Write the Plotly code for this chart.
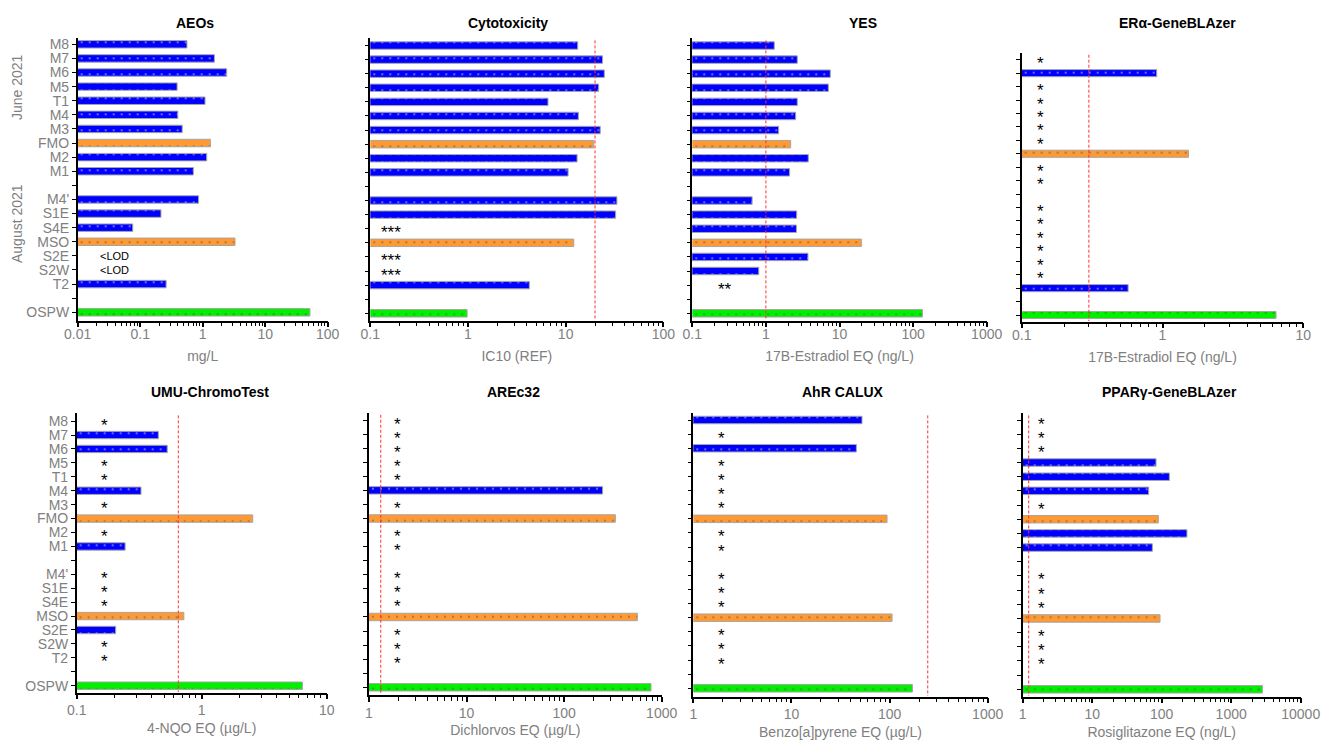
import math
import plotly.graph_objects as go

# ---------------- data ----------------
slots = ["M8", "M7", "M6", "M5", "T1", "M4", "M3", "FMO", "M2", "M1", None,
         "M4'", "S1E", "S4E", "MSO", "S2E", "S2W", "T2", None, "OSPW"]
samples = [s for s in slots if s]
orange_samples = ["FMO", "MSO"]
green_samples = ["OSPW"]

# values in sample order (None = not detected)
aeos = [0.56, 1.54, 2.42, 0.39, 1.09, 0.40, 0.47, 1.33, 1.16, 0.71,
        0.86, 0.215, 0.076, 3.29, None, None, 0.26, 52]
cytotox = [13.3, 23.9, 24.9, 21.8, 6.6, 13.5, 22.6, 19.4, 13.1, 10.6,
           33.5, 32.5, None, 12.1, None, None, 4.25, 0.98]
yes = [1.30, 2.67, 7.5, 7.05, 2.67, 2.54, 1.49, 2.17, 3.77, 2.10,
       0.65, 2.62, 2.60, 19.8, 3.73, 0.80, None, 134]
era = [None, 0.91, None, None, None, None, None, 1.53, None, None,
       None, None, None, None, None, None, 0.57, 6.4]
umu = [None, 0.45, 0.53, None, None, 0.327, None, 2.56, None, 0.244,
       None, None, None, 0.72, 0.205, None, None, 6.39]
arec32 = [None, None, None, None, None, 248, None, 335, None, None,
          None, None, None, 563, None, None, None, 777]
ahr = [52.4, None, 45.9, None, None, None, None, 94.2, None, None,
       None, None, None, 106, None, None, None, 171]
ppar = [None, None, None, 82.9, 129, 65, None, 89.5, 231, 73.4,
        None, None, None, 94.6, None, None, None, 2807]

titles = ["AEOs", "Cytotoxicity", "YES", "ERα-GeneBLAzer",
          "UMU-ChromoTest", "AREc32", "AhR CALUX", "PPARγ-GeneBLAzer"]
x_titles = ["mg/L", "IC10 (REF)", "17B-Estradiol EQ (ng/L)", "17B-Estradiol EQ (ng/L)",
            "4-NQO EQ (µg/L)", "Dichlorvos EQ (µg/L)", "Benzo[a]pyrene EQ (µg/L)",
            "Rosiglitazone EQ (ng/L)"]
nd_labels = ["<LOD", "***", "**", "*", "*", "*", "*", "*"]
thresholds = [None, 20, 1.0, 0.3, 0.65, 1.32, 245, 1.22]
x_ranges = [(0.01, 100), (0.1, 100), (0.1, 1000), (0.1, 10),
            (0.1, 10), (1, 1000), (1, 1000), (1, 10000)]
group_labels = ["June 2021", "August 2021"]

panel_values = [aeos, cytotox, yes, era, umu, arec32, ahr, ppar]

# ---------------- layout geometry (pixels) ----------------
W, H = 1321, 742
# left, right, axis top, axis bottom, first-row centre, last-row centre
geom = [
    (77.7, 327.7, 38.3, 320.7, 44.3, 312.3),
    (370.3, 663.3, 38.3, 320.7, 45.5, 313.3),
    (692.3, 986.7, 38.3, 320.7, 45.5, 313.3),
    (1021.7, 1303.3, 52.7, 321.7, 59.7, 315.0),
    (76.7, 326.7, 413.3, 692.7, 421.1, 685.7),
    (369.0, 661.7, 412.7, 695.0, 420.0, 687.3),
    (693.3, 987.7, 413.3, 696.7, 420.0, 688.3),
    (1022.7, 1300.7, 413.3, 696.7, 420.0, 689.3),
]
title_pos = [(195, 23), (508, 23), (863, 23), (1177, 23),
             (210, 392), (513, 392), (843, 392), (1169, 392)]
nd_x = [0.0395, 0.163, 0.278, 0.135, 0.168, 1.97, 1.93, 1.88]  # label positions (data units)

FONT = "Arial, Liberation Sans, sans-serif"
GRAY = "#808080"


def colors(name):
    if name in orange_samples:
        return "#FF9933", "#FFD0A0"
    if name in green_samples:
        return "#00F000", "#145214"
    return "#0000FF", "#FFFFFF"


fig = go.Figure()
annotations = []
n = len(slots)

for i in range(8):
    k = i + 1
    xa = "x" if k == 1 else f"x{k}"
    ya = "y" if k == 1 else f"y{k}"
    L, R, T, B, yf, yl = geom[i]
    s = (yl - yf) / (n - 1)
    r_top = -(yf - T) / s
    r_bot = (n - 1) + (B - yl) / s
    top_row = i < 4

    vals = panel_values[i]
    bx, by, bc, fg = [], [], [], []
    for name, v in zip(samples, vals):
        pos = slots.index(name)
        if v is None:
            annotations.append(dict(
                x=math.log10(nd_x[i]), y=pos, xref=xa, yref=ya, text=nd_labels[i],
                showarrow=False,
                font=dict(family=FONT, size=11 if nd_labels[i] == "<LOD" else 17,
                          color="#000000"),
                yshift=0 if nd_labels[i] == "<LOD" else -4))
        else:
            c, f = colors(name)
            bx.append(v)
            by.append(pos)
            bc.append(c)
            fg.append(f)
    fig.add_trace(go.Bar(
        x=bx, y=by, orientation="h", xaxis=xa, yaxis=ya, width=0.53,
        marker=dict(color=bc, line=dict(color="#A6A6A6", width=1),
                    pattern=dict(shape=".", bgcolor=bc, fgcolor=fg, size=8,
                                 solidity=0.06)),
        showlegend=False, hoverinfo="x+y"))

    if thresholds[i] is not None:
        fig.add_trace(go.Scatter(
            x=[thresholds[i], thresholds[i]], y=[r_top + 0.15, r_bot - 0.05],
            mode="lines", xaxis=xa, yaxis=ya,
            line=dict(color="#FF3030", width=1, dash="3px,2px"),
            showlegend=False, hoverinfo="skip"))

    lo, hi = x_ranges[i]
    fig.layout[("xaxis" if k == 1 else f"xaxis{k}")] = dict(
        type="log", domain=[L / W, R / W], anchor=ya, automargin=False,
        range=[math.log10(lo), math.log10(hi)],
        tickmode="linear", tick0=0, dtick=1, exponentformat="none",
        ticklabeloverflow="allow",
        ticklabelstandoff=-5 if top_row else -1,
        showline=True, linecolor="#000000", linewidth=1.5,
        ticks="outside", ticklen=5, tickwidth=1.5, tickcolor="#000000",
        minor=dict(ticks="outside", ticklen=4, tickcolor="#000000", tickwidth=1,
                   dtick="D1", showgrid=False),
        showgrid=False, zeroline=False,
        tickfont=dict(family=FONT, size=14, color=GRAY),
        title=dict(text=x_titles[i], font=dict(family=FONT, size=14, color=GRAY),
                   standoff=10 if top_row else 6),
        fixedrange=True)
    fig.layout[("yaxis" if k == 1 else f"yaxis{k}")] = dict(
        domain=[1 - B / H, 1 - T / H], anchor=xa, automargin=False,
        range=[r_bot, r_top],
        tickvals=list(range(n)), ticktext=[sl or "" for sl in slots],
        showticklabels=(i in (0, 4)),
        showline=True, linecolor="#000000", linewidth=1.5,
        ticks="outside", ticklen=4, tickwidth=1.2, tickcolor="#000000",
        showgrid=False, zeroline=False,
        tickfont=dict(family=FONT, size=14, color=GRAY),
        fixedrange=True)

    tx, ty = title_pos[i]
    annotations.append(dict(
        x=tx / W, y=1 - ty / H, xref="paper", yref="paper", text=f"<b>{titles[i]}</b>",
        showarrow=False, xanchor="center", yanchor="middle",
        font=dict(family=FONT, size=14, color="#000000")))

for label, cy in zip(group_labels, (87, 224)):
    annotations.append(dict(x=17 / W, y=1 - cy / H, xref="paper", yref="paper",
                            text=label, textangle=-90, showarrow=False,
                            xanchor="center", yanchor="middle",
                            font=dict(family=FONT, size=14, color=GRAY)))

fig.update_layout(
    width=W, height=H, margin=dict(l=0, r=0, t=0, b=0),
    paper_bgcolor="white", plot_bgcolor="white",
    annotations=annotations, bargap=0.4, separators=".",
    font=dict(family=FONT))

fig.write_html("out.html", config={"displayModeBar": False},
               post_script="document.body.style.margin='0';"
                           "document.body.style.overflow='hidden';")
